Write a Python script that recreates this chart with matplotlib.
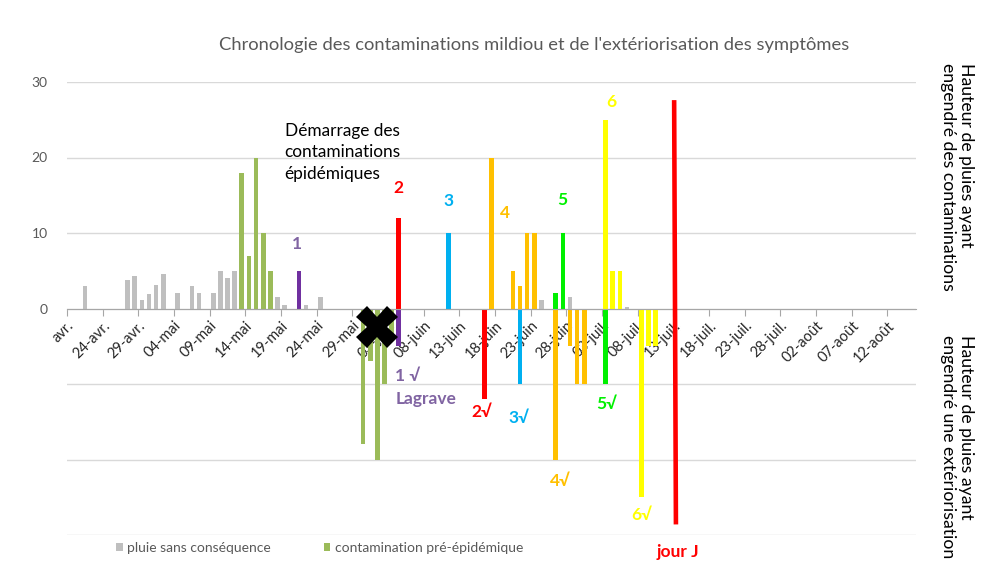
import numpy as np
import pandas as pd
import matplotlib
matplotlib.use('Agg')
import matplotlib.pyplot as plt

plt.rcParams['font.family'] = ['Lato', 'DejaVu Sans']

start = pd.Timestamp('2021-04-19')

# pluies sans conséquence
gray_dates = ['2021-04-21', '2021-04-27', '2021-04-28', '2021-04-29', '2021-04-30',
              '2021-05-01', '2021-05-02', '2021-05-04', '2021-05-06', '2021-05-07',
              '2021-05-09', '2021-05-10', '2021-05-11', '2021-05-12', '2021-05-18',
              '2021-05-19', '2021-05-22', '2021-05-24', '2021-06-24', '2021-06-28',
              '2021-07-06']
gray_vals = [3, 3.8, 4.3, 1.1, 1.9, 3.1, 4.6, 2, 3, 2, 2, 5, 4, 5, 1.5, 0.5, 0.5, 1.5,
             1.1, 1.5, 0.2]

# contaminations pré-épidémiques et leur extériorisation
pre_dates = ['2021-05-13', '2021-05-14', '2021-05-15', '2021-05-16', '2021-05-17',
             '2021-05-30', '2021-05-31', '2021-06-01', '2021-06-02', '2021-06-03']
pre_vals = [18, 7, 20, 10, 5, -18, -7, -20, -10, -4]

# contaminations épidémiques 1..6 (positif) et extériorisation (négatif)
c1_dates = ['2021-05-21', '2021-06-04']
c1_vals = [5, -5]
c2_dates = ['2021-06-04', '2021-06-16']
c2_vals = [12, -12]
c3_dates = ['2021-06-11', '2021-06-21']
c3_vals = [10, -10]
c4_dates = ['2021-06-17', '2021-06-20', '2021-06-21', '2021-06-22', '2021-06-23',
            '2021-06-26', '2021-06-28', '2021-06-29', '2021-06-30']
c4_vals = [20, 5, 3, 10, 10, -20, -5, -10, -10]
c5_dates = ['2021-06-26', '2021-06-27', '2021-07-03']
c5_vals = [2, 10, -10]
c6_dates = ['2021-07-03', '2021-07-04', '2021-07-05', '2021-07-08', '2021-07-09',
            '2021-07-10']
c6_vals = [25, 5, 5, -25, -5, -5]

jour_j = '2021-07-13'

tick_labels = ['avr.', '24-avr.', '29-avr.', '04-mai', '09-mai', '14-mai', '19-mai',
               '24-mai', '29-mai', '03-juin', '08-juin', '13-juin', '18-juin',
               '23-juin', '28-juin', '03-juil.', '08-juil.', '13-juil.', '18-juil.',
               '23-juil.', '28-juil.', '02-août', '07-août', '12-août']


def pos(dates):
    return (pd.to_datetime(dates) - start).days.values + 0.5


fig = plt.figure(figsize=(9.83, 5.76), dpi=100)
ax = fig.add_axes([67 / 983, 41 / 576, 849 / 983, 453 / 576])

# axe horizontal sur le zéro (avant de régler les ticks, sinon ils sont recréés)
for s in ['top', 'right', 'left']:
    ax.spines[s].set_visible(False)
ax.spines['bottom'].set_position(('data', 0))
ax.spines['bottom'].set_color('#A6A6A6')
ax.spines['bottom'].set_zorder(3)

w = 0.65
h_gray = ax.bar(pos(gray_dates), gray_vals, width=w, color='#BFBFBF', zorder=2)
h_pre = ax.bar(pos(pre_dates), pre_vals, width=w, color='#9BBB59', zorder=2)
ax.bar(pos(c1_dates), c1_vals, width=w, color='#7030A0', zorder=2)
ax.bar(pos(c2_dates), c2_vals, width=w, color='#FF0000', zorder=2)
ax.bar(pos(c3_dates), c3_vals, width=w, color='#00B0F0', zorder=2)
ax.bar(pos(c4_dates), c4_vals, width=w, color='#FFC000', zorder=2)
ax.bar(pos(c5_dates), c5_vals, width=w, color='#00F000', zorder=2)
ax.bar(pos(c6_dates), c6_vals, width=w, color='#FFFF00', zorder=2)

# trait "jour J"
jx = pos([jour_j])[0]
ax.plot([jx - 0.4, jx - 0.15], [27.6, -28.6], color='#FF0000', lw=3.3,
        solid_capstyle='butt', zorder=4, clip_on=False)

# croix noire
ax.plot(43.4, -2.4, marker='X', ms=30, mew=0, color='black', zorder=5)

ax.set_xlim(0, 119)
ax.set_ylim(-30, 30)
ax.set_yticks(np.arange(-30, 31, 10))
ax.set_yticklabels(['', '', '', '0', '10', '20', '30'])
ax.yaxis.grid(True, color='#D9D9D9', lw=1, zorder=0)
ax.set_axisbelow(True)
ax.tick_params(axis='y', length=0, pad=14, labelsize=10, labelcolor='#595959')

ax.set_xticks(np.arange(0, 116, 5))
ax.tick_params(axis='x', length=5, color='#A6A6A6', pad=2, labelsize=10.5,
               labelcolor='#262626', labelrotation=45)
ax.set_xticklabels(tick_labels)
for t in ax.get_xticklabels():
    t.set_ha('right')
    t.set_va('top')
    t.set_rotation_mode('anchor')

# étiquettes
lab = dict(fontsize=12.5, fontweight='bold', ha='center', va='center', zorder=6)
ax.text(32.2, 8.6, '1', color='#8064A2', **lab)
ax.text(46.5, 16.0, '2', color='#FF0000', **lab)
ax.text(53.5, 14.2, '3', color='#00B0F0', **lab)
ax.text(61.4, 12.6, '4', color='#FFC000', **lab)
ax.text(69.4, 14.4, '5', color='#00F000', **lab)
ax.text(76.3, 27.3, '6', color='#FFFF00', **lab)
ax.text(58.2, -13.7, '2√', color='#FF0000', **lab)
ax.text(63.4, -14.5, '3√', color='#00B0F0', **lab)
ax.text(69.1, -22.9, '4√', color='#FFC000', **lab)
ax.text(75.6, -12.6, '5√', color='#00F000', **lab)
ax.text(80.5, -27.3, '6√', color='#FFFF00', **lab)
ax.text(85.6, -32.3, 'jour J', color='#FF0000', clip_on=False, **lab)
ax.text(46.0, -8.9, '1 √', color='#8064A2', fontsize=12.5, fontweight='bold',
        ha='left', va='center')
ax.text(46.0, -12.0, 'Lagrave', color='#8064A2', fontsize=12.5, fontweight='bold',
        ha='left', va='center')

ax.text(30.5, 20.7, 'Démarrage des\ncontaminations\népidémiques', fontsize=12.4,
        ha='left', va='center', linespacing=1.42, color='black')

fig.text(0.543, 0.922, "Chronologie des contaminations mildiou et de l'extériorisation des symptômes",
         ha='center', va='center', fontsize=13.2, color='#595959')

fig.text(0.9735, (576 - 63) / 576, 'Hauteur de pluies ayant\nengendré des contaminations',
         rotation=270, rotation_mode='anchor', ha='left', va='center',
         fontsize=12.7, linespacing=1.2)
fig.text(0.9735, (576 - 335) / 576, 'Hauteur de pluies ayant\nengendré une extériorisation',
         rotation=270, rotation_mode='anchor', ha='left', va='center',
         fontsize=12.7, linespacing=1.2)

ax.legend([h_gray, h_pre], ['pluie sans conséquence', 'contamination pré-épidémique'],
          loc='center', bbox_to_anchor=(0.325, 0.0486), bbox_transform=fig.transFigure,
          ncol=2, frameon=False, handlelength=0.5, handleheight=0.5,
          handletextpad=0.3, columnspacing=3.8, fontsize=10, labelcolor='#595959')

fig.savefig('out.png', dpi=100)
